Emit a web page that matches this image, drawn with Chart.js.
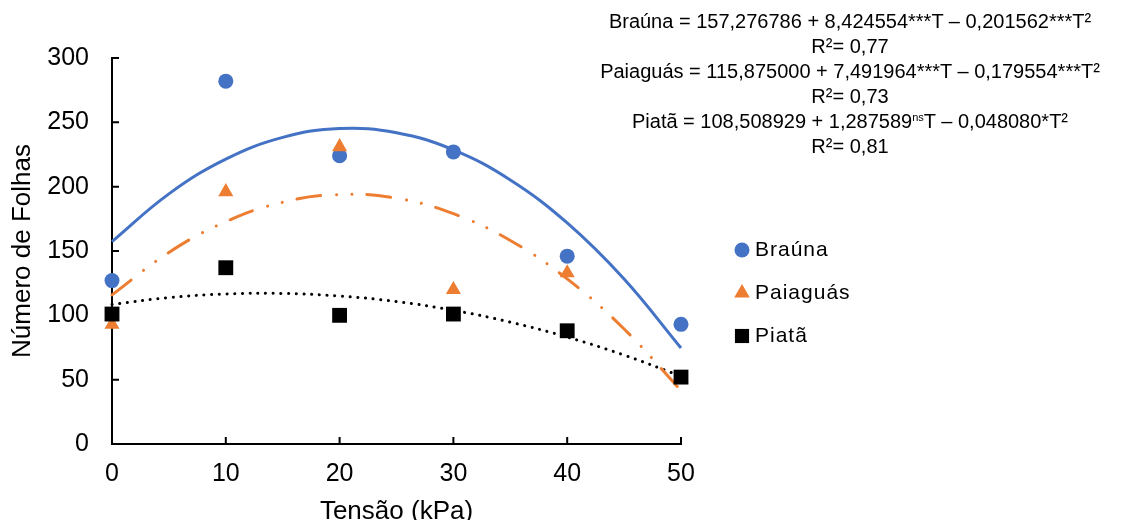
<!DOCTYPE html>
<html lang="pt">
<head>
<meta charset="utf-8">
<title>Número de Folhas x Tensão</title>
<script src="https://cdn.jsdelivr.net/npm/chart.js@4/dist/chart.umd.min.js"></script>
<style>
  html, body { margin: 0; padding: 0; background: #fff; }
  #wrap { position: relative; width: 1144px; height: 520px; }
  #equacoes {
    position: absolute; left: 556px; top: 9px; width: 588px;
    text-align: center; color: #000;
    font: 20px "Liberation Sans", Arial, sans-serif; line-height: 25px;
  }
  #equacoes sup { font-size: 11px; vertical-align: 7px; line-height: 0; }
</style>
</head>
<body>
<div id="wrap">
  <canvas id="grafico" width="1144" height="520"></canvas>
  <div id="equacoes">
    Braúna = 157,276786 + 8,424554***T – 0,201562***T²<br>
    R²= 0,77<br>
    Paiaguás = 115,875000 + 7,491964***T – 0,179554***T²<br>
    R²= 0,73<br>
    Piatã = 108,508929 + 1,287589<sup>ns</sup>T – 0,048080*T²<br>
    R²= 0,81
  </div>
</div>
<script>
// valores observados
const tensao = [0, 10, 20, 30, 40, 50];
const brauna = [127, 282, 224, 227, 146, 93];
const paiaguas = [93, 196, 231, 120, 133, 50];
const piata = [101, 137, 100, 101, 88, 52];

// linhas de tendência, a cada 5 kPa
const tensaoCurva = [0, 5, 10, 15, 20, 25, 30, 35, 40, 45, 50];
const braunaCurva = [157.3, 194.4, 221.4, 238.3, 245.2, 241.9, 228.6, 205.2, 171.8, 128.2, 74.6];
const paiaguasCurva = [115.9, 148.9, 172.8, 187.9, 193.9, 191.0, 179.0, 158.2, 128.3, 89.4, 41.6];
const piataCurva = [108.5, 113.8, 116.6, 117.0, 115.0, 110.7, 103.9, 94.7, 83.1, 69.1, 52.7];

const ticksX = [0, 10, 20, 30, 40, 50];
const ticksY = [0, 50, 100, 150, 200, 250, 300];

const fonte = '"Liberation Sans", Arial, sans-serif';
const azul = '#4472C4', laranja = '#ED7D31', preto = '#000000';

const pts = (xs, ys) => xs.map((x, i) => ({ x: x, y: ys[i] }));

// marcas de escala para dentro da área do gráfico
const marcasInternas = {
    id: 'marcasInternas',
    beforeDatasetsDraw(chart) {
        const { ctx, chartArea: a, scales: { x, y } } = chart;
        ctx.save();
        ctx.strokeStyle = preto;
        ctx.lineWidth = 2;
        ctx.beginPath();
        x.ticks.forEach(t => {
            const px = x.getPixelForValue(t.value);
            ctx.moveTo(px, a.bottom);
            ctx.lineTo(px, a.bottom - 7);
        });
        y.ticks.forEach(t => {
            const py = y.getPixelForValue(t.value);
            ctx.moveTo(a.left, py);
            ctx.lineTo(a.left + 7, py);
        });
        ctx.stroke();
        ctx.restore();
    }
};

// legenda à direita, só com as séries de pontos
const legendaLateral = {
    id: 'legendaLateral',
    afterDraw(chart) {
        const ctx = chart.ctx;
        const itens = chart.data.datasets.filter(d => !d.showLine).reverse();
        const raios = { circle: 7.5, triangle: 9, rect: 10 };
        ctx.save();
        ctx.font = '21px ' + fonte;
        if ('letterSpacing' in ctx) ctx.letterSpacing = '1px';
        ctx.textBaseline = 'middle';
        ctx.textAlign = 'left';
        itens.forEach((d, i) => {
            const y = 250 + i * 43;
            ctx.fillStyle = d.backgroundColor;
            Chart.helpers.drawPoint(ctx, {
                pointStyle: d.pointStyle, radius: raios[d.pointStyle], rotation: 0, borderWidth: 0
            }, 742, y);
            ctx.fillStyle = preto;
            ctx.fillText(d.label, 755, y);
        });
        ctx.restore();
    }
};

const serie = (label, xs, ys, cor, estilo, raio, ordem) => ({
    label: label,
    data: pts(xs, ys),
    showLine: false,
    pointStyle: estilo,
    pointRadius: raio,
    backgroundColor: cor,
    borderColor: cor,
    borderWidth: 0,
    clip: false,
    order: ordem
});

const tendencia = (label, ys, cor, traco) => ({
    label: label,
    data: pts(tensaoCurva, ys),
    showLine: true,
    pointRadius: 0,
    borderColor: cor,
    borderWidth: 3,
    borderDash: traco,
    borderCapStyle: traco.length ? 'round' : 'butt',
    tension: 0.4,
    fill: false,
    clip: false,
    order: 3
});

new Chart(document.getElementById('grafico'), {
    type: 'scatter',
    data: {
        datasets: [
            serie('Piatã', tensao, piata, preto, 'rect', 10.5, 0),
            serie('Paiaguás', tensao, paiaguas, laranja, 'triangle', 8.7, 1),
            serie('Braúna', tensao, brauna, azul, 'circle', 7.5, 2),
            tendencia('Tendência Braúna', braunaCurva, azul, []),
            tendencia('Tendência Paiaguás', paiaguasCurva, laranja, [24, 16, 0.1, 15, 0.1, 15]),
            tendencia('Tendência Piatã', piataCurva, preto, [0.1, 7.6])
        ]
    },
    options: {
        responsive: false,
        devicePixelRatio: 1,
        animation: false,
        events: [],
        layout: { padding: { left: 0, top: 58, right: 463, bottom: 0 } },
        plugins: {
            legend: { display: false },
            tooltip: { enabled: false }
        },
        scales: {
            x: {
                type: 'linear',
                min: 0, max: 50,
                afterBuildTicks: s => { s.ticks = ticksX.map(v => ({ value: v })); },
                afterFit: s => { s.height = 76; },
                grid: { display: false, drawTicks: false },
                border: { display: true, color: preto, width: 2 },
                ticks: { padding: 15, color: preto, font: { family: fonte, size: 25 } },
                title: {
                    display: true, text: 'Tensão (kPa)', color: preto,
                    font: { family: fonte, size: 26, lineHeight: 1 },
                    padding: { top: 0, bottom: -5 }
                }
            },
            y: {
                type: 'linear',
                min: 0, max: 300,
                afterBuildTicks: s => { s.ticks = ticksY.map(v => ({ value: v })); },
                afterFit: s => { s.width = 112; },
                grid: { display: false, drawTicks: false },
                border: { display: true, color: preto, width: 2 },
                ticks: { padding: 23, color: preto, font: { family: fonte, size: 25 } },
                title: {
                    display: true, text: 'Número de Folhas', color: preto,
                    font: { family: fonte, size: 26, lineHeight: 1 },
                    padding: { top: 10, bottom: 0 }
                }
            }
        }
    },
    plugins: [marcasInternas, legendaLateral]
});
</script>
</body>
</html>
